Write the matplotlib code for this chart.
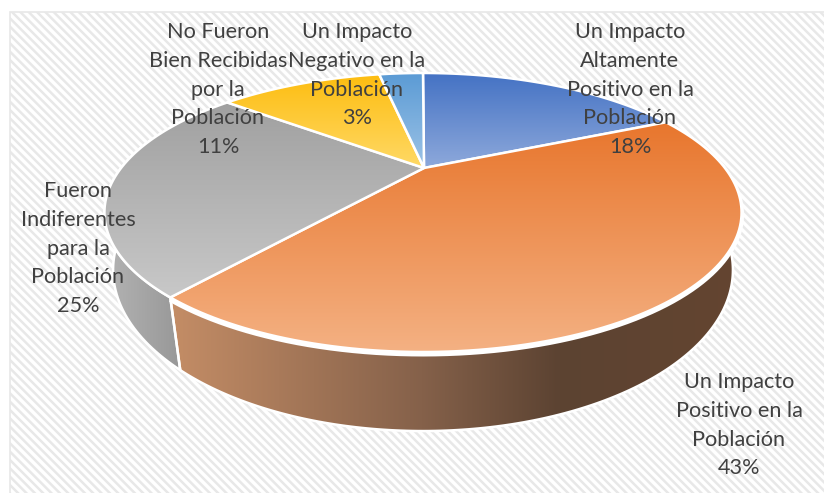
import numpy as np
import matplotlib
matplotlib.use("Agg")
import matplotlib.pyplot as plt
from matplotlib.colors import to_rgb
from matplotlib.patches import Polygon, Rectangle

categories = [
    "Un Impacto\nAltamente\nPositivo en la\nPoblación",
    "Un Impacto\nPositivo en la\nPoblación",
    "Fueron\nIndiferentes\npara la\nPoblación",
    "No Fueron\nBien Recibidas\npor la\nPoblación",
    "Un Impacto\nNegativo en la\nPoblación",
]
values = [18, 43, 25, 11, 3]

top_colors = ["#4472c4", "#e8762d", "#a0a0a0", "#fdbd10", "#5b9bd5"]
low_colors = ["#8ea9db", "#f4b183", "#c8c8c8", "#ffd966", "#9dc3e6"]
label_xy = [(630, 31), (739, 381), (78, 190), (218, 31), (357, 31)]

W, H = 824, 493
CX = 423


# the two planes of the 3d pie, as perspective views of a circle
def top_face(theta):
    u, v = np.sin(theta), np.cos(theta)
    w = 1 + 0.3047 * v
    return CX + 303.4 * u / w, (170 - 74.75 * v) / w


def bottom_face(theta):
    u, v = np.sin(theta), np.cos(theta)
    w = 1 + 0.2857 * v
    return CX + 297 * u / w, (224 - 83.9 * v) / w


def fill_gradient(ax, verts, stops, vertical=True, zorder=2):
    # stops: (position 0..1, colour)
    pos = [s[0] for s in stops]
    rgb = np.array([to_rgb(s[1]) for s in stops])
    t = np.linspace(0, 1, 256)
    img = np.column_stack([np.interp(t, pos, rgb[:, k]) for k in range(3)])
    img = img[:, None, :] if vertical else img[None, :, :]
    xs, ys = verts[:, 0], verts[:, 1]
    extent = (xs.min(), xs.max(), ys.max(), ys.min())
    im = ax.imshow(img, extent=extent, aspect="auto", zorder=zorder, interpolation="bilinear")
    patch = Polygon(verts, closed=True, facecolor="none", edgecolor="white",
                    linewidth=1.8, zorder=zorder + 0.1)
    ax.add_patch(patch)
    im.set_clip_path(patch)


def wall_verts(t):
    return np.vstack([np.column_stack(top_face(t)), np.column_stack(bottom_face(t))[::-1]])


plt.rcParams["hatch.linewidth"] = 1.8

fig = plt.figure(figsize=(W / 100, H / 100), dpi=100)
ax = fig.add_axes([0, 0, 1, 1])
ax.set_xlim(0, W)
ax.set_ylim(H, 0)
ax.axis("off")

ax.add_patch(Rectangle((10.5, 11.5), W, H, facecolor="white", edgecolor="#e8e8e8",
                       hatch="\\\\\\\\", linewidth=1.2, zorder=1))

edges = np.cumsum([0] + values) / sum(values) * 2 * np.pi

# walls
t_o = np.linspace(edges[1], edges[2], 200)
fill_gradient(ax, wall_verts(t_o),
              [(0, "#c48d66"), (0.44, "#85614a"), (0.68, "#5c4332"), (1, "#644530")],
              vertical=False)
t_g = np.linspace(edges[2], np.radians(285), 60)
fill_gradient(ax, wall_verts(t_g), [(0, "#b4b4b4"), (1, "#989898")], vertical=False)

# white gap between the orange top and its wall
tx, ty = top_face(t_o)
ax.plot(tx, ty + 2, color="white", linewidth=3.6, solid_capstyle="butt", zorder=2.5)

# top faces
for i in range(len(values)):
    t = np.linspace(edges[i], edges[i + 1], 120)
    verts = np.vstack([[CX + 1, 168], np.column_stack(top_face(t))])
    fill_gradient(ax, verts, [(0, top_colors[i]), (1, low_colors[i])], zorder=3 + i * 0.2)

for cat, val, (x, y) in zip(categories, values, label_xy):
    ax.text(x, y - 9, f"{cat}\n{val}%", ha="center", va="top", color="#404040",
            family="Lato", fontsize=15.6, linespacing=1.55, zorder=10)

fig.savefig("out.png", dpi=100)
